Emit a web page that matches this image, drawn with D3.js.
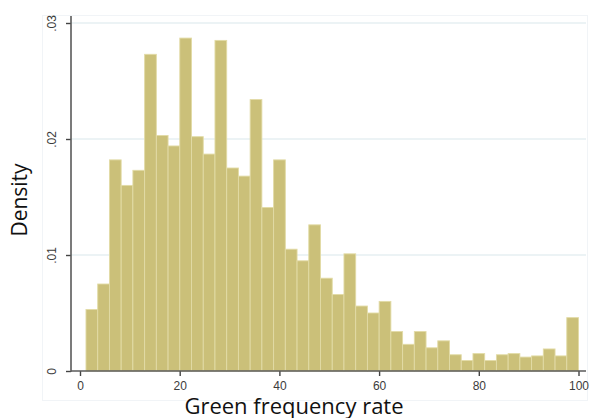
<!DOCTYPE html>
<html>
<head>
<meta charset="utf-8">
<script src="https://cdn.jsdelivr.net/npm/d3@7"></script>
<style>
  body { margin: 0; background: #fff; }
  svg { display: block; }
</style>
</head>
<body>
<div id="chart"></div>
<script>
// histogram: 42 bins between about 1.2 and 100
const binStart = 1.2;
const binEnd = 100;
const densities = [
  0.0053, 0.0075, 0.0182, 0.0160, 0.0173, 0.0273, 0.0203, 0.0194, 0.0287, 0.0202,
  0.0187, 0.0285, 0.0175, 0.0168, 0.0234, 0.0141, 0.0182, 0.0105, 0.0095, 0.0126,
  0.0080, 0.0066, 0.0101, 0.0056, 0.0050, 0.0060, 0.0034, 0.0023, 0.0034, 0.0020,
  0.0026, 0.0014, 0.0009, 0.0015, 0.0009, 0.0014, 0.0015, 0.0012, 0.0013, 0.0019,
  0.0013, 0.0046
];
const xTicks = [0, 20, 40, 60, 80, 100];
const yTicks = [0, 0.01, 0.02, 0.03];
const yTickLabels = ["0", ".01", ".02", ".03"];

const width = 592, height = 418;

const svg = d3.select("#chart").append("svg")
    .attr("width", width)
    .attr("height", height);

let x = d3.scaleLinear().domain([0, 100]).range([80, 578.5]);
let y = d3.scaleLinear().domain([0, 0.03]).range([371, 23]);

let binW = (binEnd - binStart) / densities.length;
let bins = densities.map((d, i) => ({x0: binStart + i * binW, x1: binStart + (i + 1) * binW, d: d}));

// faint outer plot region frame
svg.append("rect")
    .attr("x", 42.5).attr("y", 15.5)
    .attr("width", 545).attr("height", 385)
    .attr("fill", "none")
    .attr("stroke", "#f1f4f7")
    .attr("stroke-width", 1);

// grid lines
svg.selectAll(".grid")
    .data(yTicks.slice(1))
    .enter().append("line")
    .attr("class", "grid")
    .attr("x1", 71).attr("x2", 586)
    .attr("y1", d => y(d)).attr("y2", d => y(d))
    .attr("stroke", "#e6eff2")
    .attr("stroke-width", 1.5);

// bars
svg.selectAll(".bar")
    .data(bins)
    .enter().append("rect")
    .attr("class", "bar")
    .attr("x", d => x(d.x0))
    .attr("y", d => y(d.d))
    .attr("width", d => x(d.x1) - x(d.x0))
    .attr("height", d => y(0) - y(d.d))
    .attr("fill", "#cbc079")
    .attr("stroke", "#e2dba6")
    .attr("stroke-width", 0.9);

// axes
let xAxis = d3.axisBottom(x).tickValues(xTicks).tickSize(5).tickPadding(5).tickSizeOuter(0);
let gx = svg.append("g").attr("transform", "translate(0,371)").call(xAxis);
gx.select(".domain").remove();
gx.append("line").attr("x1", 71).attr("x2", 586).attr("y1", 0).attr("y2", 0)
    .attr("stroke", "#5a5a5a").attr("stroke-width", 1.6);
gx.selectAll(".tick line").attr("stroke", "#444").attr("stroke-width", 1.4);
gx.selectAll(".tick text")
    .attr("fill", "#3c3c3c")
    .style("font-family", "Liberation Sans, Arial, sans-serif")
    .style("font-size", "12px");

let yAxis = d3.axisLeft(y).tickValues(yTicks).tickFormat((d, i) => yTickLabels[i]).tickSize(5).tickSizeOuter(0);
let gy = svg.append("g").attr("transform", "translate(71,0)").call(yAxis);
gy.select(".domain").remove();
gy.append("line").attr("x1", 0).attr("x2", 0).attr("y1", 16).attr("y2", 371.8)
    .attr("stroke", "#5a5a5a").attr("stroke-width", 1.6);
gy.selectAll(".tick line").attr("stroke", "#444").attr("stroke-width", 1.4);
gy.selectAll(".tick text")
    .attr("fill", "#3c3c3c")
    .attr("x", 0).attr("dy", 0)
    .attr("text-anchor", "middle")
    .attr("transform", "translate(-15,0) rotate(-90)")
    .style("font-family", "Liberation Sans, Arial, sans-serif")
    .style("font-size", "12px");

// titles
svg.append("text")
    .attr("x", 294).attr("y", 414)
    .attr("text-anchor", "middle")
    .style("font-family", "Open Sans, sans-serif")
    .style("font-size", "22px")
    .attr("fill", "#111")
    .text("Green frequency rate");

svg.append("text")
    .attr("transform", "translate(27,200) rotate(-90)")
    .attr("text-anchor", "middle")
    .style("font-family", "Open Sans, sans-serif")
    .style("font-size", "21px")
    .attr("fill", "#111")
    .text("Density");
</script>
</body>
</html>
